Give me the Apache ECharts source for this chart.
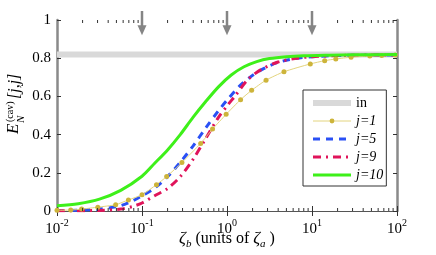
<!DOCTYPE html>
<html><head><meta charset="utf-8">
<script src="https://cdn.jsdelivr.net/npm/echarts@6/dist/echarts.min.js"></script>
<style>html,body{margin:0;padding:0;background:#fff}#c{width:436px;height:255px}</style>
</head><body><div id="c"></div>
<script>
const FONT = '"Liberation Serif","Times New Roman",serif';

// ---- data ----
const inLevel = 0.82;
const inX = [0.01, 100];

const j1X = [0.01, 0.0145, 0.0195, 0.0302, 0.049, 0.0692, 0.1, 0.148, 0.195, 0.295, 0.49, 0.676, 0.977, 1.445, 1.95, 2.88, 4.68, 9.55, 14.1, 19.05, 28.8, 47.9, 66.1, 95.5];
const j1Y = [0.004, 0.005, 0.01, 0.02, 0.033, 0.058, 0.085, 0.138, 0.18, 0.254, 0.354, 0.429, 0.506, 0.583, 0.632, 0.685, 0.729, 0.77, 0.787, 0.796, 0.805, 0.811, 0.814, 0.817];

const j5X = [0.01, 0.0178, 0.0316, 0.0562, 0.0794, 0.1, 0.141, 0.2, 0.282, 0.398, 0.562, 0.794, 1, 1.413, 1.995, 2.818, 3.981, 6.31, 10, 19.95, 39.81, 100];
const j5Y = [0.002, 0.004, 0.01, 0.028, 0.055, 0.08, 0.12, 0.18, 0.255, 0.34, 0.435, 0.525, 0.58, 0.655, 0.71, 0.75, 0.778, 0.798, 0.808, 0.814, 0.816, 0.817];

const j9X = [0.01, 0.0316, 0.0562, 0.0794, 0.1, 0.141, 0.2, 0.282, 0.398, 0.562, 0.794, 1, 1.259, 1.778, 2.512, 3.981, 6.31, 10, 19.95, 39.81, 100];
const j9Y = [0.001, 0.003, 0.01, 0.025, 0.042, 0.08, 0.118, 0.18, 0.27, 0.38, 0.49, 0.55, 0.605, 0.69, 0.74, 0.78, 0.798, 0.808, 0.814, 0.816, 0.817];

const j10X = [0.01, 0.0178, 0.0316, 0.0562, 0.1, 0.141, 0.2, 0.282, 0.398, 0.562, 0.794, 1.122, 1.585, 2.239, 3.162, 5.012, 7.943, 15.85, 31.62, 100];
const j10Y = [0.027, 0.038, 0.062, 0.108, 0.182, 0.25, 0.32, 0.40, 0.49, 0.573, 0.65, 0.712, 0.755, 0.782, 0.798, 0.808, 0.813, 0.816, 0.818, 0.819];

const arrowX = [0.1, 1, 10];
const arrowTop = 1.047, arrowTip = 0.92;

const yTickLabels = ['0', '0.2', '0.4', '0.6', '0.8', '1'];
const decades = [0.01, 0.1, 1, 10];
const minorMult = [2, 3, 4, 5, 6, 7, 8, 9];
const minorTicks = [];
decades.forEach(d => minorMult.forEach(m => minorTicks.push([d * m, 0])));

const zip = (xs, ys) => xs.map((x, i) => [x, ys[i]]);

const chart = echarts.init(document.getElementById('c'), null, {renderer: 'canvas'});

const xAxisBase = {
  type: 'log', logBase: 10, min: 0.01, max: 100,
  axisLine: {show: true, lineStyle: {color: '#555', width: 1}},
  axisTick: {show: true, inside: true, length: 5, lineStyle: {color: '#333'}},
  splitLine: {show: false}
};
const yAxisBase = {
  type: 'value', min: 0, max: 1, interval: 0.2,
  axisLine: {show: true, lineStyle: {color: '#8a8a8a', width: 2.5}},
  axisTick: {show: true, inside: true, length: 4, lineStyle: {color: '#333'}},
  splitLine: {show: false}
};

const hideSym = {opacity: 0};

const option = {
  animation: false,
  backgroundColor: '#fff',
  grid: {left: 57, right: 39, top: 20, bottom: 44, containLabel: false, outerBoundsMode: 'none'},
  xAxis: [
    Object.assign({}, xAxisBase, {
      position: 'bottom',
      name: '{z|ζ}{sb|b}{r| (units of }{z|ζ}{sa|a}{r| )}',
      nameLocation: 'middle', nameGap: 17, nameMoveOverlap: false,
      nameTextStyle: {
        fontFamily: FONT, color: '#000',
        rich: {
          z: {fontFamily: FONT, fontSize: 17, fontStyle: 'italic', lineHeight: 22, color: '#000'},
          r: {fontFamily: FONT, fontSize: 16, lineHeight: 22, color: '#000'},
          sb: {fontFamily: FONT, fontSize: 11, fontStyle: 'italic', lineHeight: 11, verticalAlign: 'bottom', color: '#000'},
          sa: {fontFamily: FONT, fontSize: 11, fontStyle: 'italic', lineHeight: 11, verticalAlign: 'bottom', color: '#000'}
        }
      },
      axisLabel: {
        margin: 7,
        formatter: v => '{b|10}{s|' + Math.round(Math.log10(v)) + '}',
        rich: {
          b: {fontFamily: FONT, fontSize: 15, lineHeight: 22, color: '#000'},
          s: {fontFamily: FONT, fontSize: 10, lineHeight: 10, verticalAlign: 'top', color: '#000'}
        }
      }
    }),
    Object.assign({}, xAxisBase, {position: 'top', axisLabel: {show: false}})
  ],
  yAxis: [
    Object.assign({}, yAxisBase, {
      position: 'left',
      axisLabel: {
        margin: 6, fontFamily: FONT, fontSize: 15, color: '#000',
        formatter: v => yTickLabels[Math.round(v / 0.2)]
      }
    }),
    Object.assign({}, yAxisBase, {position: 'right', axisLabel: {show: false}})
  ],
  legend: {
    orient: 'vertical', left: 303, top: 90,
    padding: [5, 3, 3, 7],
    itemWidth: 38, itemHeight: 6, itemGap: 2,
    borderColor: '#333', borderWidth: 1, backgroundColor: '#fff',
    data: [
      {name: 'in', itemStyle: hideSym, lineStyle: {width: 6}},
      {name: 'j=1', lineStyle: {width: 1}},
      {name: 'j=5', itemStyle: hideSym, lineStyle: {width: 3}},
      {name: 'j=9', itemStyle: hideSym, lineStyle: {width: 3}},
      {name: 'j=10', itemStyle: hideSym, lineStyle: {width: 3}}
    ],
    formatter: n => n === 'in' ? '{n|in}' : '{i|' + n + '}',
    textStyle: {
      fontFamily: FONT, fontSize: 14, color: '#000', lineHeight: 16,
      rich: {
        n: {fontFamily: FONT, fontSize: 14, lineHeight: 16, color: '#000'},
        i: {fontFamily: FONT, fontSize: 14, lineHeight: 16, fontStyle: 'italic', color: '#000'}
      }
    }
  },
  graphic: [{
    type: 'group', x: 20, y: 109, rotation: Math.PI / 2,
    children: [
      {type: 'text', x: -25, y: -6, style: {text: 'E', font: 'italic 17px ' + FONT, fill: '#000', verticalAlign: 'middle', align: 'left'}},
      {type: 'text', x: -13, y: -10, style: {text: '(cav)', font: '10px ' + FONT, fill: '#000', verticalAlign: 'middle', align: 'left'}},
      {type: 'text', x: -14, y: 1, style: {text: 'N', font: 'italic 11px ' + FONT, fill: '#000', verticalAlign: 'middle', align: 'left'}},
      {type: 'text', x: 10, y: -5, style: {text: '[j,j]', font: 'italic 16px ' + FONT, fill: '#000', verticalAlign: 'middle', align: 'left'}}
    ]
  }],
  series: [
    {
      name: 'in', type: 'line', data: zip(inX, [inLevel, inLevel]),
      symbol: 'none', lineStyle: {color: '#d9d9d9', width: 6}, itemStyle: {color: '#d9d9d9'}, z: 1
    },
    {
      name: 'j=5', type: 'line', data: zip(j5X, j5Y), smooth: 0.3,
      symbol: 'none', lineStyle: {color: '#2a50f5', width: 3, type: [7, 6]}, itemStyle: {color: '#2a50f5'}, z: 3
    },
    {
      name: 'j=9', type: 'line', data: zip(j9X, j9Y), smooth: 0.3,
      symbol: 'none', lineStyle: {color: '#e0145a', width: 3, type: [8, 5, 2, 5]}, itemStyle: {color: '#e0145a'}, z: 4
    },
    {
      name: 'j=1', type: 'line', data: zip(j1X, j1Y), smooth: 0.2,
      symbol: 'circle', symbolSize: 5, showSymbol: true,
      lineStyle: {color: '#e3d47e', width: 1}, itemStyle: {color: '#cdb43a'}, z: 5
    },
    {
      name: 'j=10', type: 'line', data: zip(j10X, j10Y), smooth: 0.3,
      symbol: 'none', lineStyle: {color: '#3ef01a', width: 3}, itemStyle: {color: '#3ef01a'}, z: 6
    },
    {
      name: 'minorTicks', type: 'custom', data: minorTicks, silent: true, z: 7,
      renderItem: (params, api) => {
        const x = api.value(0);
        const b = api.coord([x, 0]);
        const t = api.coord([x, 1]);
        return {type: 'group', children: [
          {type: 'line', shape: {x1: b[0], y1: b[1], x2: b[0], y2: b[1] - 3}, style: {stroke: '#333', lineWidth: 1}},
          {type: 'line', shape: {x1: t[0], y1: t[1], x2: t[0], y2: t[1] + 3}, style: {stroke: '#333', lineWidth: 1}}
        ]};
      }
    },
    {
      name: 'arrows', type: 'custom', clip: false, silent: true, z: 8,
      data: arrowX.map(x => [x, arrowTop, arrowTip]),
      renderItem: (params, api) => {
        const x = api.value(0);
        const top = api.coord([x, api.value(1)]);
        const tip = api.coord([x, api.value(2)]);
        const head = 10, hw = 4.5;
        return {type: 'group', children: [
          {type: 'line', shape: {x1: top[0], y1: top[1], x2: tip[0], y2: tip[1] - head + 1}, style: {stroke: '#858585', lineWidth: 2.5}},
          {type: 'polygon', shape: {points: [[tip[0] - hw, tip[1] - head], [tip[0] + hw, tip[1] - head], [tip[0], tip[1]]]}, style: {fill: '#858585'}}
        ]};
      }
    }
  ]
};
chart.setOption(option);
</script>
</body></html>
